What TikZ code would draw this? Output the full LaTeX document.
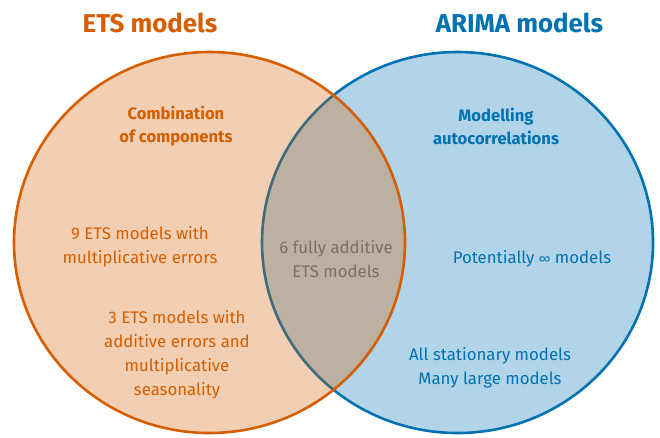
\documentclass[tikz,border=0pt]{standalone}
\usepackage{fontspec}
\setmainfont{Fira Sans}
\definecolor{etsorange}{HTML}{D55E00}
\definecolor{arimablue}{HTML}{0072B2}
\definecolor{overlapgrey}{RGB}{122,113,101}
\tikzset{
  set/.style={line width=2.6pt, fill opacity=0.3},
  title/.style={font=\fontsize{25.8}{30}\selectfont\bfseries, anchor=center},
  heading/.style={font=\fontsize{16.6}{23}\selectfont\bfseries, align=center, anchor=center},
  body/.style={font=\fontsize{16.8}{24}\selectfont, align=center, anchor=center},
}
\begin{document}
\begin{tikzpicture}[x=1pt, y=-1pt]
  \useasboundingbox (0,0) rectangle (660,437);
  % the two sets
  \draw[set, draw=arimablue, fill=arimablue] (457.5,242.5) ellipse [x radius=195.5pt, y radius=190.5pt];
  \draw[set, draw=etsorange, fill=etsorange] (209.5,242.5) ellipse [x radius=195.5pt, y radius=190.5pt];
  % titles
  \node[title, text=etsorange] (etstitle) at (150,23) {ETS models};
  \node[title, text=arimablue] (arimatitle) at (519.5,23) {ARIMA models};
  % headings
  \node[heading, text=etsorange] (etshead) at (176,126) {Combination\\of components};
  \node[heading, text=arimablue] (arimahead) at (496,126) {Modelling\\autocorrelations};
  % ETS-only contents
  \node[body, text=etsorange] (multerr) at (140,246.5) {9 ETS models with\\multiplicative errors};
  \node[body, text=etsorange] (multseas) at (177,355) {3 ETS models with\\additive errors and\\multiplicative\\seasonality};
  % overlap
  \node[body, text=overlapgrey] (additive) at (336,259) {6 fully additive\\ETS models};
  % ARIMA-only contents
  \node[body, text=arimablue] (infinite) at (532,258.5) {Potentially {\fontsize{13}{14}\selectfont ∞} models};
  \node[body, text=arimablue] (stationary) at (490,367.5) {All stationary models\\Many large models};
\end{tikzpicture}
\end{document}
